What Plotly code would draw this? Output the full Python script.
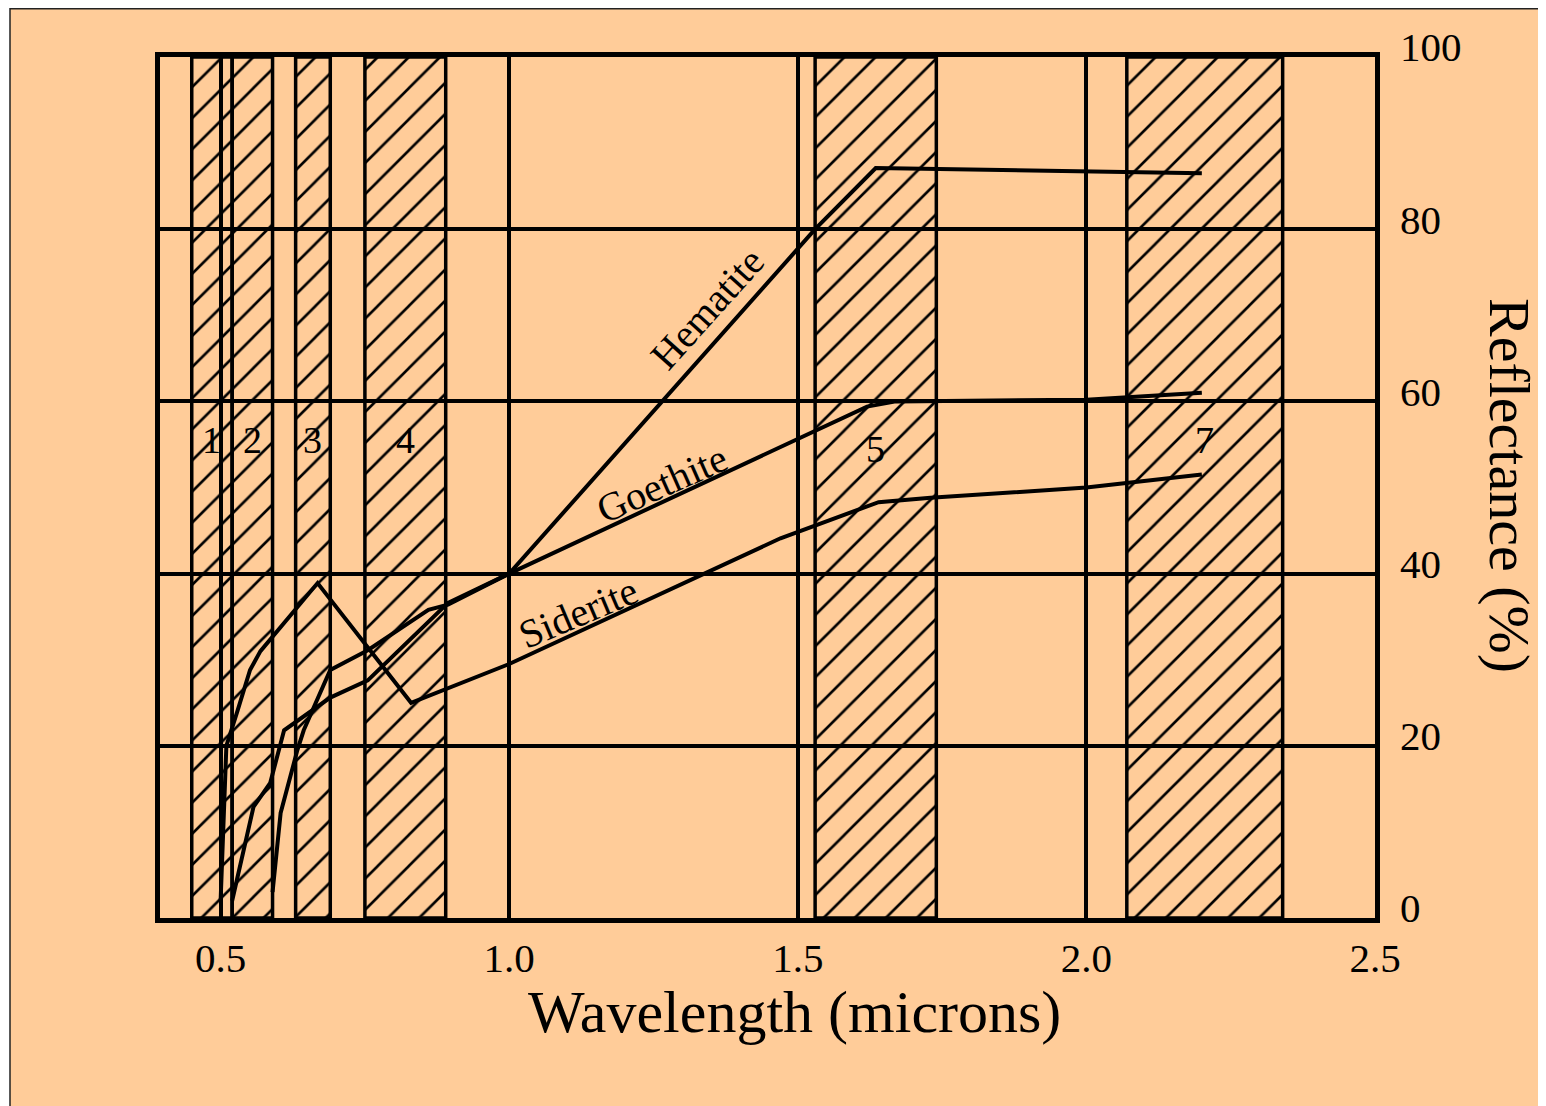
import plotly.graph_objects as go

BG = "#FFCC99"
SERIF = "Liberation Serif"

# Landsat TM band intervals (microns)
band_names = ["1", "2", "3", "4", "5", "7"]
band_start = [0.45, 0.52, 0.63, 0.75, 1.53, 2.07]
band_end = [0.52, 0.59, 0.69, 0.89, 1.74, 2.34]
band_label_y = [55.5, 55.5, 55.5, 55.5, 54.5, 55.5]

# Reflectance spectra (wavelength in microns, reflectance %)
hematite_x = [0.52, 0.53, 0.557, 0.586, 0.60, 0.61, 0.69, 0.755, 0.894, 1.00, 1.53, 1.635, 2.20]
hematite_y = [2.0, 5.0, 12.9, 15.7, 19.5, 21.8, 25.6, 27.6, 36.6, 40.0, 80.0, 87.1, 86.5]

goethite_x = [0.59, 0.604, 0.633, 0.644, 0.69, 0.755, 0.86, 0.894, 1.00, 1.62, 1.67, 2.00, 2.20]
goethite_y = [3.0, 12.2, 19.5, 21.8, 28.8, 31.1, 35.8, 36.4, 40.0, 59.4, 60.0, 60.2, 61.0]

siderite_x = [0.50, 0.505, 0.51, 0.529, 0.551, 0.569, 0.668, 0.83, 1.00, 1.47, 1.573, 1.64, 1.73, 2.00, 2.20]
siderite_y = [2.0, 12.0, 20.0, 24.0, 28.8, 31.0, 38.9, 25.0, 29.5, 44.1, 46.6, 48.3, 48.8, 50.0, 51.5]

curve_names = ["Hematite", "Goethite", "Siderite"]
curve_label_x = [1.343, 1.265, 1.12]
curve_label_y = [70.8, 50.5, 35.5]
curve_label_angle = [-48, -24, -23]

x_ticks = [0.5, 1.0, 1.5, 2.0, 2.5]
x_tick_text = ["0.5", "1.0", "1.5", "2.0", "2.5"]
y_ticks = [0, 20, 40, 60, 80, 100]
y_tick_text = ["0", "20", "40", "60", "80", "100"]

fig = go.Figure()

band_center = [(s + e) / 2 for s, e in zip(band_start, band_end)]
band_width = [e - s for s, e in zip(band_start, band_end)]

fig.add_trace(go.Bar(
    x=band_center, y=[100] * len(band_center), base=0, width=band_width,
    marker=dict(
        color="rgba(0,0,0,0)",
        line=dict(color="black", width=3.5),
        pattern=dict(shape="/", fgcolor="black", fgopacity=1, bgcolor="rgba(0,0,0,0)",
                     size=22, solidity=0.12, fillmode="overlay"),
    ),
    hoverinfo="skip", showlegend=False,
))

for xs, ys in [(hematite_x, hematite_y), (goethite_x, goethite_y), (siderite_x, siderite_y)]:
    fig.add_trace(go.Scatter(x=xs, y=ys, mode="lines",
                             line=dict(color="black", width=4),
                             showlegend=False))

W, H = 1538, 1098
ML, MR, MT, MB = 152, 171, 49, 188
PW, PH = W - ML - MR, H - MT - MB

annotations = []
for name, cx, ly in zip(band_names, band_center, band_label_y):
    annotations.append(dict(x=cx, y=ly, xref="x", yref="y", text=name, showarrow=False,
                            font=dict(family=SERIF, size=38, color="black")))
for name, lx, ly, ang in zip(curve_names, curve_label_x, curve_label_y, curve_label_angle):
    annotations.append(dict(x=lx, y=ly, xref="x", yref="y", text=name, showarrow=False,
                            textangle=ang, font=dict(family=SERIF, size=40, color="black")))
annotations.append(dict(x=(795 - 160) / PW, y=-(1012 - 918) / PH, xref="paper", yref="paper",
                        xanchor="center", yanchor="middle",
                        text="Wavelength (microns)", showarrow=False,
                        font=dict(family=SERIF, size=60, color="black")))
annotations.append(dict(x=(1510 - 160) / PW, y=(918 - 485) / PH, xref="paper", yref="paper",
                        xanchor="center", yanchor="middle",
                        text="Reflectance (%)", showarrow=False, textangle=90,
                        font=dict(family=SERIF, size=58, color="black")))

fig.update_layout(
    width=W, height=H, autosize=False,
    margin=dict(l=ML, r=MR, t=MT, b=MB, pad=0),
    paper_bgcolor="white", plot_bgcolor="rgba(0,0,0,0)",
    barmode="overlay", showlegend=False,
    annotations=annotations,
    shapes=[dict(type="rect", xref="paper", yref="paper",
                 x0=(2 - ML) / PW, x1=(1536.5 - ML) / PW,
                 y0=-(1100 - (MT + PH)) / PH, y1=(MT + PH - 0.75) / PH,
                 line=dict(color="#222222", width=1.5), fillcolor=BG, layer="below")],
    xaxis=dict(range=[0.395, 2.5], tickvals=x_ticks, ticktext=x_tick_text,
               showgrid=True, gridcolor="black", gridwidth=3.5,
               showline=True, mirror=True, linecolor="black", linewidth=4.5,
               ticks="", zeroline=False, ticklabelstandoff=0,
               tickfont=dict(family=SERIF, size=41, color="black")),
    yaxis=dict(range=[0, 100], side="right", tickvals=y_ticks, ticktext=y_tick_text,
               showgrid=True, gridcolor="black", gridwidth=3.5,
               showline=True, mirror=True, linecolor="black", linewidth=4.5,
               ticks="", zeroline=False, ticklabelstandoff=12, ticklabelshift=-10,
               tickfont=dict(family=SERIF, size=41, color="black")),
)

fig.write_html("out.html")
